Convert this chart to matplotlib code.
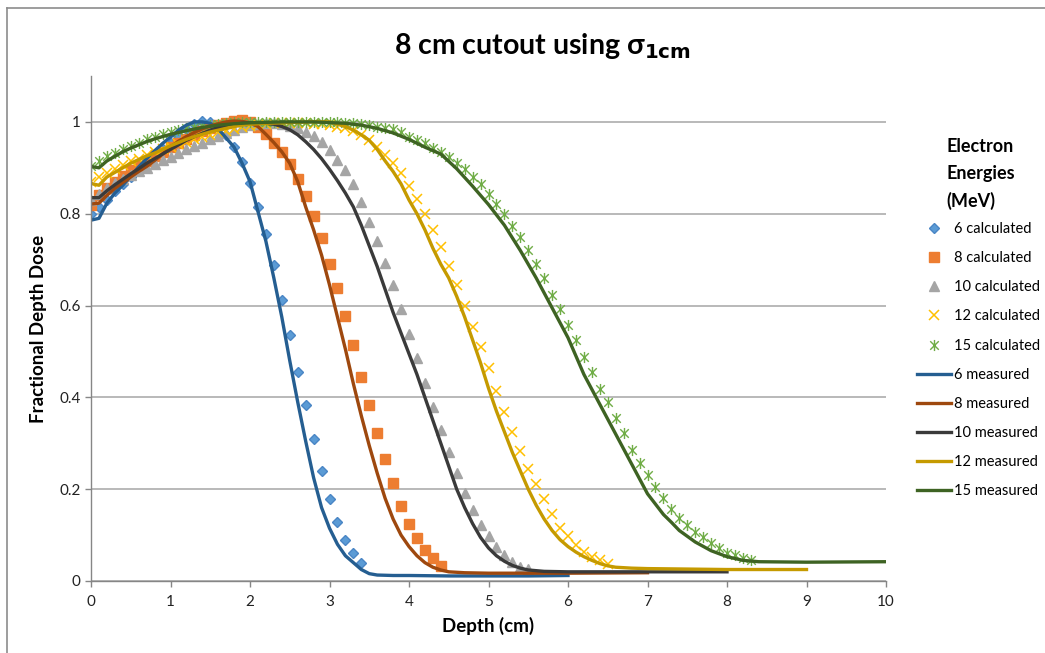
import numpy as np
import matplotlib.pyplot as plt
from matplotlib.lines import Line2D
from matplotlib.path import Path

plt.rcParams['font.family'] = ['Lato', 'DejaVu Sans']

# calculated depth dose, sampled every 0.1 cm
x6c = np.arange(35) * 0.1
y6c = [0.80, 0.815, 0.83, 0.85, 0.865, 0.88, 0.895, 0.91, 0.925, 0.94, 0.955, 0.97, 0.985, 0.995, 1.003,
       1.0, 0.99, 0.972, 0.945, 0.912, 0.867, 0.815, 0.755, 0.689, 0.612, 0.535, 0.456, 0.383, 0.309, 0.240,
       0.179, 0.129, 0.089, 0.060, 0.040]

x8c = np.arange(45) * 0.1
y8c = [0.82, 0.84, 0.855, 0.87, 0.883, 0.895, 0.905, 0.915, 0.925, 0.935, 0.945, 0.955, 0.963, 0.972, 0.98,
       0.987, 0.993, 0.998, 1.002, 1.004, 1.0, 0.99, 0.973, 0.955, 0.934, 0.908, 0.876, 0.839, 0.794, 0.747,
       0.691, 0.638, 0.577, 0.513, 0.445, 0.384, 0.323, 0.265, 0.213, 0.164, 0.124, 0.094, 0.068, 0.050, 0.033]

x10c = np.arange(56) * 0.1
y10c = [0.83, 0.843, 0.855, 0.866, 0.876, 0.885, 0.893, 0.90, 0.908, 0.916, 0.924, 0.932, 0.94, 0.948, 0.955,
        0.962, 0.969, 0.976, 0.982, 0.988, 0.993, 0.996, 0.998, 0.998, 0.996, 0.992, 0.986, 0.978, 0.97, 0.957,
        0.939, 0.917, 0.895, 0.864, 0.826, 0.783, 0.741, 0.692, 0.645, 0.593, 0.537, 0.485, 0.431, 0.38, 0.329,
        0.282, 0.235, 0.191, 0.155, 0.122, 0.097, 0.075, 0.057, 0.042, 0.031, 0.026]

x12c = np.arange(66) * 0.1
y12c = [0.87, 0.88, 0.888, 0.898, 0.906, 0.914, 0.92, 0.928, 0.934, 0.94, 0.946, 0.952, 0.957, 0.962, 0.967,
        0.972, 0.977, 0.981, 0.985, 0.989, 0.992, 0.994, 0.996, 0.997, 0.998, 0.998, 0.998, 0.997, 0.996, 0.995,
        0.993, 0.99, 0.986, 0.98, 0.972, 0.96, 0.945, 0.928, 0.91, 0.888, 0.861, 0.832, 0.80, 0.765, 0.727,
        0.687, 0.644, 0.599, 0.554, 0.509, 0.463, 0.414, 0.369, 0.325, 0.284, 0.245, 0.211, 0.178, 0.145, 0.115,
        0.097, 0.078, 0.064, 0.053, 0.046, 0.037]

x15c = np.arange(84) * 0.1
y15c = [0.905, 0.915, 0.925, 0.933, 0.94, 0.948, 0.955, 0.962, 0.968, 0.973, 0.978, 0.982, 0.986, 0.989, 0.992,
        0.994, 0.996, 0.998, 0.999, 1.0, 1.0, 1.0, 1.0, 1.0, 1.0, 1.0, 1.0, 1.0, 1.0, 1.0,
        1.0, 0.999, 0.998, 0.997, 0.995, 0.993, 0.99, 0.987, 0.984, 0.977, 0.968, 0.961, 0.954, 0.944, 0.934,
        0.923, 0.911, 0.897, 0.881, 0.864, 0.842, 0.821, 0.799, 0.773, 0.749, 0.72, 0.691, 0.659, 0.623, 0.592,
        0.558, 0.525, 0.489, 0.455, 0.418, 0.389, 0.354, 0.322, 0.285, 0.256, 0.231, 0.205, 0.18, 0.157, 0.138,
        0.122, 0.107, 0.095, 0.083, 0.071, 0.062, 0.057, 0.051, 0.046]

# measured depth dose
x6m = [0, 0.1, 0.2, 0.3, 0.4, 0.5, 0.6, 0.7, 0.8, 0.9, 1.0, 1.1, 1.2, 1.3, 1.4, 1.5, 1.6, 1.7, 1.8, 1.9,
       2.0, 2.1, 2.2, 2.3, 2.4, 2.5, 2.6, 2.7, 2.8, 2.9, 3.0, 3.1, 3.2, 3.3, 3.4, 3.5, 3.6, 3.8, 4.0, 4.5,
       5.0, 5.5, 6.0]
y6m = [0.786, 0.79, 0.823, 0.845, 0.862, 0.882, 0.902, 0.92, 0.937, 0.953, 0.967, 0.982, 0.993, 1.0, 1.0,
       0.997, 0.985, 0.965, 0.945, 0.91, 0.87, 0.805, 0.74, 0.66, 0.575, 0.48, 0.39, 0.305, 0.225, 0.16,
       0.115, 0.08, 0.055, 0.04, 0.025, 0.016, 0.013, 0.012, 0.012, 0.011, 0.011, 0.011, 0.012]

x8m = [0, 0.1, 0.2, 0.3, 0.4, 0.5, 0.6, 0.7, 0.8, 0.9, 1.0, 1.1, 1.2, 1.3, 1.4, 1.5, 1.6, 1.7, 1.8, 1.9,
       2.0, 2.1, 2.2, 2.3, 2.4, 2.5, 2.6, 2.7, 2.8, 2.9, 3.0, 3.1, 3.2, 3.3, 3.4, 3.5, 3.6, 3.7, 3.8, 3.9,
       4.0, 4.1, 4.2, 4.3, 4.4, 4.5, 4.7, 5.0, 6.0, 7.0]
y8m = [0.821, 0.823, 0.84, 0.855, 0.868, 0.88, 0.892, 0.903, 0.916, 0.93, 0.945, 0.958, 0.968, 0.977, 0.985,
       0.991, 0.996, 1.0, 1.002, 1.001, 0.998, 0.99, 0.973, 0.955, 0.935, 0.91, 0.87, 0.815, 0.765, 0.71,
       0.645, 0.575, 0.505, 0.43, 0.36, 0.295, 0.235, 0.18, 0.135, 0.10, 0.075, 0.055, 0.04, 0.03, 0.024,
       0.02, 0.018, 0.017, 0.017, 0.018]

x10m = [0, 0.1, 0.2, 0.3, 0.4, 0.5, 0.6, 0.7, 0.8, 0.9, 1.0, 1.1, 1.2, 1.3, 1.4, 1.5, 1.6, 1.7, 1.8, 1.9,
        2.0, 2.1, 2.2, 2.3, 2.4, 2.5, 2.6, 2.7, 2.8, 2.9, 3.0, 3.1, 3.2, 3.3, 3.4, 3.5, 3.6, 3.7, 3.8, 3.9,
        4.0, 4.1, 4.2, 4.3, 4.4, 4.5, 4.6, 4.7, 4.8, 4.9, 5.0, 5.1, 5.2, 5.3, 5.4, 5.5, 5.7, 6.0, 7.0, 8.0]
y10m = [0.835, 0.835, 0.85, 0.863, 0.875, 0.887, 0.898, 0.91, 0.92, 0.93, 0.94, 0.95, 0.96, 0.968, 0.975,
        0.982, 0.988, 0.992, 0.995, 0.997, 0.998, 0.998, 0.997, 0.995, 0.99, 0.983, 0.972, 0.957, 0.94, 0.92,
        0.897, 0.872, 0.845, 0.815, 0.775, 0.73, 0.685, 0.635, 0.585, 0.54, 0.495, 0.45, 0.40, 0.35, 0.30,
        0.25, 0.20, 0.16, 0.125, 0.095, 0.072, 0.055, 0.043, 0.034, 0.028, 0.024, 0.021, 0.02, 0.02, 0.02]

x12m = [0, 0.1, 0.2, 0.3, 0.4, 0.5, 0.6, 0.7, 0.8, 0.9, 1.0, 1.1, 1.2, 1.3, 1.4, 1.5, 1.6, 1.7, 1.8, 1.9,
        2.0, 2.2, 2.4, 2.6, 2.8, 3.0, 3.1, 3.2, 3.3, 3.4, 3.5, 3.6, 3.7, 3.8, 3.9, 4.0, 4.1, 4.2, 4.3, 4.4,
        4.5, 4.6, 4.7, 4.8, 4.9, 5.0, 5.1, 5.2, 5.3, 5.4, 5.5, 5.6, 5.7, 5.8, 5.9, 6.0, 6.1, 6.2, 6.3, 6.4,
        6.5, 6.6, 6.8, 7.0, 8.0, 9.0]
y12m = [0.866, 0.862, 0.88, 0.89, 0.90, 0.91, 0.918, 0.926, 0.932, 0.94, 0.948, 0.955, 0.962, 0.968, 0.973,
        0.978, 0.982, 0.986, 0.99, 0.993, 0.995, 0.997, 0.998, 0.999, 1.0, 1.0, 0.995, 0.99, 0.982, 0.972,
        0.96, 0.94, 0.915, 0.892, 0.865, 0.83, 0.80, 0.765, 0.725, 0.69, 0.66, 0.62, 0.575, 0.525, 0.475,
        0.42, 0.37, 0.325, 0.28, 0.24, 0.20, 0.165, 0.135, 0.11, 0.09, 0.075, 0.063, 0.053, 0.045, 0.038,
        0.033, 0.03, 0.028, 0.027, 0.025, 0.025]

x15m = [0, 0.1, 0.2, 0.3, 0.4, 0.5, 0.6, 0.7, 0.8, 0.9, 1.0, 1.2, 1.4, 1.6, 1.8, 2.0, 2.4, 2.8, 3.2, 3.4,
        3.6, 3.8, 4.0, 4.2, 4.4, 4.6, 4.8, 5.0, 5.2, 5.4, 5.6, 5.8, 6.0, 6.2, 6.4, 6.6, 6.8, 7.0, 7.2, 7.3,
        7.4, 7.6, 7.8, 8.0, 8.2, 8.4, 9.0, 10.0]
y15m = [0.903, 0.90, 0.915, 0.925, 0.935, 0.943, 0.95, 0.957, 0.963, 0.968, 0.973, 0.981, 0.988, 0.993, 0.996,
        0.998, 1.0, 1.0, 0.997, 0.993, 0.986, 0.976, 0.962, 0.945, 0.93, 0.898, 0.86, 0.82, 0.775, 0.72,
        0.66, 0.595, 0.53, 0.45, 0.385, 0.32, 0.255, 0.19, 0.145, 0.128, 0.11, 0.085, 0.066, 0.053, 0.045,
        0.042, 0.041, 0.042]

# Excel-style asterisk: a cross with a vertical bar through it
star = Path([(-1, -1), (1, 1), (-1, 1), (1, -1), (0, -1.3), (0, 1.3)],
            [Path.MOVETO, Path.LINETO, Path.MOVETO, Path.LINETO, Path.MOVETO, Path.LINETO])

fig = plt.figure(figsize=(10.45, 6.53), dpi=100)
ax = fig.add_axes([91 / 1045, 1 - 581 / 653, 795 / 1045, 505 / 653])

ax.plot(x6c, y6c, ls='none', marker='D', ms=5.5, color='#5B9BD5', mec='#4A86C5', label='6 calculated')
ax.plot(x8c, y8c, ls='none', marker='s', ms=6.5, color='#ED7D31', label='8 calculated')
ax.plot(x10c, y10c, ls='none', marker='^', ms=7, color='#A5A5A5', label='10 calculated')
ax.plot(x12c, y12c, ls='none', marker='x', ms=7, mew=1.1, color='#FFC000', label='12 calculated')
ax.plot(x15c, y15c, ls='none', marker=star, ms=8, mew=1.0, color='#70AD47', label='15 calculated')

lw = 2.4
ax.plot(x6m, y6m, color='#255E91', lw=lw, label='6 measured')
ax.plot(x8m, y8m, color='#9E480E', lw=lw, label='8 measured')
ax.plot(x10m, y10m, color='#3A3A3A', lw=lw, label='10 measured')
ax.plot(x12m, y12m, color='#C59A00', lw=lw, label='12 measured')
ax.plot(x15m, y15m, color='#3E6323', lw=lw, label='15 measured')

ax.set_xlim(0, 10)
ax.set_ylim(0, 1.1)
ax.set_xticks(range(11))
ax.set_yticks([0, 0.2, 0.4, 0.6, 0.8, 1.0])
ax.set_yticklabels(['0', '0.2', '0.4', '0.6', '0.8', '1'])
ax.grid(axis='y', color='#A6A6A6', lw=1.1)
ax.set_axisbelow(True)
for s in ['top', 'right']:
    ax.spines[s].set_visible(False)
for s in ['left', 'bottom']:
    ax.spines[s].set_color('#868686')
    ax.spines[s].set_linewidth(1.0)
ax.tick_params(colors='#868686', labelcolor='#222222', labelsize=11, length=4, width=1)
ax.tick_params(axis='x', pad=6)

ax.set_xlabel('Depth (cm)', fontsize=13.5, fontweight='bold', labelpad=6)
ax.set_ylabel('Fractional Depth Dose', fontsize=13.5, fontweight='bold', labelpad=9)

fig.text(0.519, 0.93, r'8 cm cutout using σ$_{\mathbf{1cm}}$', ha='center', va='center',
         fontsize=20.5, fontweight='bold')

# legend heading sits indented above the entries
fig.text(946 / 1045, 1 - 138 / 653, 'Electron\nEnergies\n(MeV)', ha='left', va='top',
         fontsize=13, fontweight='bold', linespacing=1.7)
fig.legend(loc='upper left', bbox_to_anchor=(917 / 1045, 1 - 222 / 653), frameon=False,
           fontsize=10.5, labelspacing=1.04, handlelength=2.35, handletextpad=0.2,
           borderpad=0, borderaxespad=0)

# outer chart frame (top and left edges)
fig.add_artist(Line2D([7 / 1045, 7 / 1045], [0, 1 - 8 / 653], color='#8C8C8C', lw=1.2))
fig.add_artist(Line2D([7 / 1045, 1], [1 - 8 / 653, 1 - 8 / 653], color='#8C8C8C', lw=1.2))

fig.savefig('out.png', dpi=100)
